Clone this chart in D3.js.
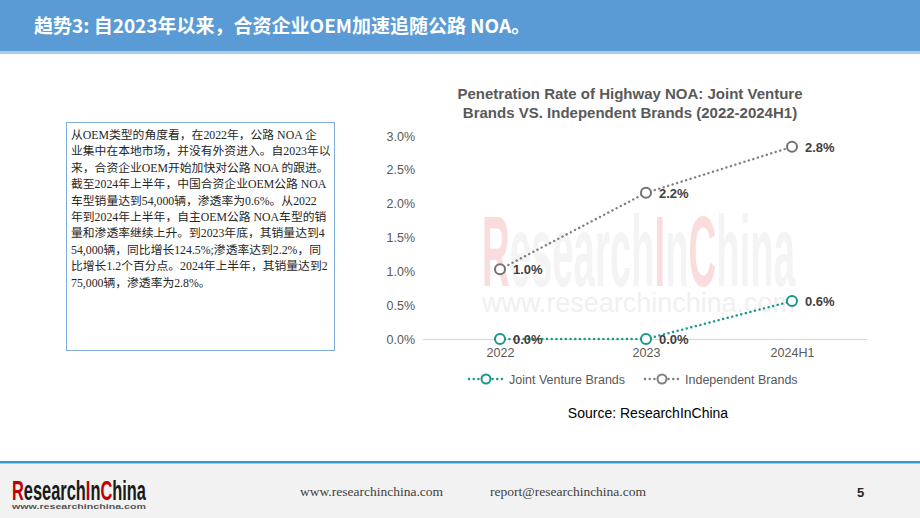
<!DOCTYPE html>
<html>
<head>
<meta charset="utf-8">
<script src="https://cdn.jsdelivr.net/npm/d3@7"></script>
<style>
  body { margin: 0; background: #fff; }
  svg { display: block; }
</style>
</head>
<body>
<div id="chart"></div>
<script>
// chart data
const categories = ['2022', '2023', '2024H1'];
const jointVenture = [0.0, 0.0, 0.56];
const independent = [1.03, 2.16, 2.84];
const yTicks = [0, 0.5, 1.0, 1.5, 2.0, 2.5, 3.0];
const seriesNames = ['Joint Venture Brands', 'Independent Brands'];

// slide text
const headline = '趋势3: 自2023年以来，合资企业OEM加速追随公路 NOA。';
const titleLines = ['Penetration Rate of Highway NOA: Joint Venture', 'Brands VS. Independent Brands (2022-2024H1)'];
const bodyLines = [
  '从OEM类型的角度看，在2022年，公路 NOA 企',
  '业集中在本地市场，并没有外资进入。自2023年以',
  '来，合资企业OEM开始加快对公路 NOA 的跟进。',
  '截至2024年上半年，中国合资企业OEM公路 NOA',
  '车型销量达到54,000辆，渗透率为0.6%。从2022',
  '年到2024年上半年，自主OEM公路 NOA车型的销',
  '量和渗透率继续上升。到2023年底，其销量达到4',
  '54,000辆，同比增长124.5%;渗透率达到2.2%，同',
  '比增长1.2个百分点。2024年上半年，其销量达到2',
  '75,000辆，渗透率为2.8%。'
];

const W = 920, H = 518;
const font = '"Liberation Sans", Arial, sans-serif';
const svg = d3.select('#chart').append('svg')
  .attr('width', W).attr('height', H);

// draws a word in coloured pieces, squeezed to a given width
function brandText(parent, x0, yBase, width, size, pieces) {
  const g = parent.append('g');
  const inner = g.append('g');
  let cx = 0;
  pieces.forEach(p => {
    const t = inner.append('text')
      .attr('x', cx).attr('y', 0)
      .attr('fill', p[1])
      .style('font-family', font)
      .style('font-weight', 'bold')
      .style('font-size', size + 'px')
      .text(p[0]);
    cx += t.node().getComputedTextLength();
  });
  g.attr('transform', `translate(${x0},${yBase}) scale(${width / cx},1)`);
  return g;
}

// header band
svg.append('rect').attr('x', 0).attr('y', 0).attr('width', W).attr('height', 51).attr('fill', '#5B9BD5');
svg.append('rect').attr('x', 0).attr('y', 51).attr('width', W).attr('height', 3).attr('fill', '#A9CBEA');
svg.append('text')
  .attr('x', 34).attr('y', 33)
  .attr('fill', '#fff')
  .style('font-family', '"Noto Sans CJK SC", sans-serif')
  .style('font-weight', 'bold')
  .style('font-size', '19px')
  .text(headline);

// text box
svg.append('rect')
  .attr('x', 66.5).attr('y', 122.5).attr('width', 268).attr('height', 228)
  .attr('fill', '#fff').attr('stroke', '#7FAEDC').attr('stroke-width', 1);
svg.append('g').selectAll('text').data(bodyLines).enter()
  .append('text')
  .attr('x', 71)
  .attr('y', (d, i) => 139 + i * 16.4)
  .attr('fill', '#262626')
  .style('font-family', '"Liberation Serif", "Noto Sans CJK SC", serif')
  .style('font-size', '11.8px')
  .text(d => d);

// watermark
const wmLight = '#F4F4F4', wmRed = '#FADCDC';
brandText(svg, 482, 286, 313, 100,
  [['R', wmRed], ['esearch', wmLight], ['I', wmRed], ['n', wmLight], ['C', wmRed], ['hina', wmLight]]);
svg.append('text')
  .attr('x', 482).attr('y', 312)
  .attr('textLength', 313).attr('lengthAdjust', 'spacingAndGlyphs')
  .attr('fill', '#F0F0F0')
  .style('font-family', font)
  .style('font-size', '27px')
  .text('www.researchinchina.com');

// chart title
svg.append('g').selectAll('text').data(titleLines).enter()
  .append('text')
  .attr('x', 630)
  .attr('y', (d, i) => 99 + i * 18.5)
  .attr('text-anchor', 'middle')
  .attr('fill', '#595959')
  .style('font-family', font)
  .style('font-weight', 'bold')
  .style('font-size', '15px')
  .text(d => d);

// scales
const x = d3.scalePoint().domain(categories).range([427, 865]).padding(0.5);
const y = d3.scaleLinear().domain([0, 3.0]).range([339, 136]);

// y axis labels
const yAxis = svg.append('g')
  .attr('transform', 'translate(415,0)')
  .call(d3.axisLeft(y).tickValues(yTicks).tickFormat(d => d.toFixed(1) + '%').tickSize(0).tickPadding(0));
yAxis.select('.domain').remove();
yAxis.selectAll('text').attr('fill', '#595959').style('font-family', font).style('font-size', '12.5px');

// x baseline + labels
const xAxis = svg.append('g')
  .attr('transform', `translate(0,${y(0)})`)
  .call(d3.axisBottom(x).tickSize(0).tickPadding(9));
xAxis.select('.domain').attr('stroke', '#D9D9D9').attr('d', 'M423,0.5H867');
xAxis.selectAll('text').attr('fill', '#595959').style('font-family', font).style('font-size', '12.5px');

const series = [
  { name: seriesNames[1], values: independent, color: '#7F7F7F', marker: '#767171' },
  { name: seriesNames[0], values: jointVenture, color: '#1B968C', marker: '#1B968C' }
];

const line = d3.line().x(d => x(d.c)).y(d => y(d.v));

series.forEach(s => {
  const pts = categories.map((c, i) => ({ c: c, v: s.values[i] }));
  const g = svg.append('g');
  g.append('path')
    .datum(pts)
    .attr('d', line)
    .attr('fill', 'none')
    .attr('stroke', s.color)
    .attr('stroke-width', 2.4)
    .attr('stroke-linecap', 'round')
    .attr('stroke-dasharray', '0.1 4.6');
  g.selectAll('circle').data(pts).enter()
    .append('circle')
    .attr('cx', d => x(d.c)).attr('cy', d => y(d.v)).attr('r', 5)
    .attr('fill', '#fff').attr('stroke', s.marker).attr('stroke-width', 2);
  g.selectAll('.lbl').data(pts).enter()
    .append('text')
    .attr('class', 'lbl')
    .attr('x', d => x(d.c) + 13)
    .attr('y', d => y(d.v) + 5)
    .attr('fill', '#404040')
    .style('font-family', font)
    .style('font-weight', 'bold')
    .style('font-size', '13px')
    .text(d => d.v.toFixed(1) + '%');
});

// legend
const legendItems = [
  { name: seriesNames[0], color: '#1B968C', x: 469 },
  { name: seriesNames[1], color: '#7F7F7F', x: 645 }
];
const lg = svg.append('g').selectAll('g').data(legendItems).enter().append('g')
  .attr('transform', d => `translate(${d.x},379)`);
lg.append('line')
  .attr('x1', 0).attr('x2', 34).attr('y1', 0).attr('y2', 0)
  .attr('stroke', d => d.color).attr('stroke-width', 2.4)
  .attr('stroke-linecap', 'round').attr('stroke-dasharray', '0.1 4.6');
lg.append('circle')
  .attr('cx', 17).attr('cy', 0).attr('r', 4.5)
  .attr('fill', '#fff').attr('stroke', d => d.color).attr('stroke-width', 2);
lg.append('text')
  .attr('x', 40).attr('y', 4.5)
  .attr('fill', '#595959')
  .style('font-family', font)
  .style('font-size', '12.5px')
  .text(d => d.name);

// source
svg.append('text')
  .attr('x', 648).attr('y', 418)
  .attr('text-anchor', 'middle')
  .attr('fill', '#000')
  .style('font-family', font)
  .style('font-size', '14px')
  .text('Source: ResearchInChina');

// footer
svg.append('rect').attr('x', 0).attr('y', 464).attr('width', W).attr('height', H - 464).attr('fill', '#F2F2F2');
svg.append('rect').attr('x', 0).attr('y', 461).attr('width', W).attr('height', 2.5).attr('fill', '#2E9BD6');

brandText(svg, 12, 500, 134, 28,
  [['R', '#C00000'], ['esearch', '#1a1a1a'], ['I', '#C00000'], ['n', '#1a1a1a'], ['C', '#C00000'], ['hina', '#1a1a1a']]);
svg.append('text')
  .attr('x', 12).attr('y', 509)
  .attr('textLength', 134).attr('lengthAdjust', 'spacingAndGlyphs')
  .attr('fill', '#555')
  .style('font-family', font)
  .style('font-weight', 'bold')
  .style('font-size', '8px')
  .text('www.researchinchina.com');

const footFont = '"Liberation Serif", "Times New Roman", serif';
svg.append('text').attr('x', 300).attr('y', 496).attr('fill', '#404040')
  .style('font-family', footFont).style('font-size', '13.5px').text('www.researchinchina.com');
svg.append('text').attr('x', 490).attr('y', 496).attr('fill', '#404040')
  .style('font-family', footFont).style('font-size', '13.5px').text('report@researchinchina.com');
svg.append('text').attr('x', 857).attr('y', 497).attr('fill', '#262626')
  .style('font-family', font).style('font-weight', 'bold').style('font-size', '13px').text('5');
</script>
</body>
</html>
